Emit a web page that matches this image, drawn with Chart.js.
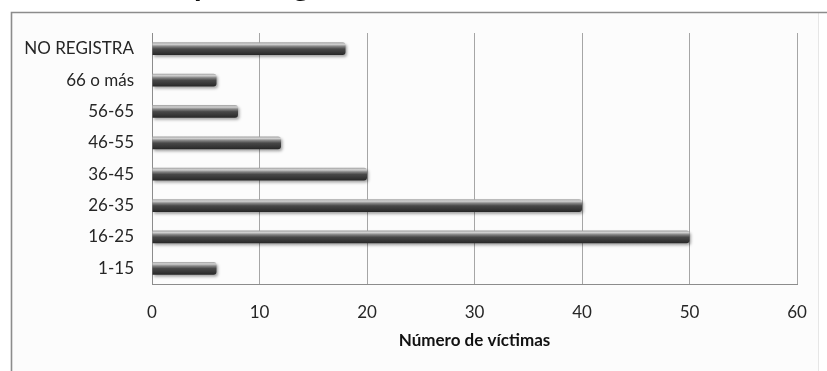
<!DOCTYPE html>
<html>
<head>
<meta charset="utf-8">
<script src="https://cdn.jsdelivr.net/npm/chart.js@4/dist/chart.umd.min.js"></script>
<style>
  html, body { margin: 0; padding: 0; background: #ffffff; }
  #wrap { width: 827px; height: 371px; position: relative; }
</style>
</head>
<body>
<div id="wrap"><canvas id="chart"></canvas></div>
<script>
// Age ranges (top to bottom) and number of victims in each
const categories = ['NO REGISTRA', '66 o más', '56-65', '46-55', '36-45', '26-35', '16-25', '1-15'];
const victims = [18, 6, 8, 12, 20, 40, 50, 6];
const xTicks = [0, 10, 20, 30, 40, 50, 60];
const chartTitle = 'Víctimas por rango de edad';
const xAxisTitle = 'Número de víctimas';

const FONT = 'Lato, "Open Sans", sans-serif';
const BAR_PCT = 0.41;

// Cylinder-like shading across each bar's thickness
function barGradient(ctx) {
  const chart = ctx.chart;
  const y = chart.scales && chart.scales.y;
  if (!y || ctx.type !== 'data' || !y.height) return '#4a4a4a';
  const c = y.getPixelForValue(ctx.dataIndex);
  const half = (y.height / categories.length) * BAR_PCT / 2;
  const g = chart.ctx.createLinearGradient(0, c - half, 0, c + half);
  g.addColorStop(0.00, '#a0a0a0');
  g.addColorStop(0.16, '#d2d2d2');
  g.addColorStop(0.32, '#858585');
  g.addColorStop(0.52, '#484848');
  g.addColorStop(0.85, '#323232');
  g.addColorStop(1.00, '#262626');
  return g;
}

// Page frame and the chart heading running off the top edge
const framePlugin = {
  id: 'frame',
  beforeDraw(chart) {
    const c = chart.ctx;
    c.save();
    c.fillStyle = '#ffffff';
    c.fillRect(0, 0, chart.width, chart.height);
    c.fillStyle = '#fcfcfc';
    c.fillRect(11, 12, 807, chart.height - 12);
    c.strokeStyle = '#e6e6e6';
    c.lineWidth = 1;
    c.beginPath();
    c.moveTo(818.5, 13); c.lineTo(818.5, chart.height);
    c.stroke();
    c.strokeStyle = '#8c8c8c';
    c.lineWidth = 1.6;
    c.beginPath();
    c.moveTo(11.5, chart.height); c.lineTo(11.5, 12.5); c.lineTo(chart.width, 12.5);
    c.stroke();
    c.font = 'bold 31px ' + FONT;
    c.fillStyle = '#111111';
    c.textBaseline = 'alphabetic';
    const pre = chartTitle.slice(0, chartTitle.indexOf('por'));
    const x0 = 194 - c.measureText(pre).width;
    c.fillText(chartTitle, x0, -4);
    c.restore();
  }
};

const shadowPlugin = {
  id: 'barShadow',
  beforeDatasetsDraw(chart) {
    const c = chart.ctx;
    c.save();
    c.shadowColor = 'rgba(0,0,0,0.35)';
    c.shadowBlur = 3;
    c.shadowOffsetX = 1.5;
    c.shadowOffsetY = 2;
  },
  afterDatasetsDraw(chart) {
    chart.ctx.restore();
  }
};

new Chart(document.getElementById('chart'), {
  type: 'bar',
  data: {
    labels: categories,
    datasets: [{
      data: victims,
      backgroundColor: barGradient,
      borderWidth: 0,
      borderRadius: 3,
      borderSkipped: 'start',
      barPercentage: BAR_PCT,
      categoryPercentage: 1.0
    }]
  },
  options: {
    indexAxis: 'y',
    responsive: true,
    maintainAspectRatio: false,
    animation: false,
    layout: { padding: { left: 0, top: 33, right: 30, bottom: 0 } },
    plugins: {
      legend: { display: false },
      tooltip: { enabled: false },
      title: { display: false }
    },
    scales: {
      x: {
        min: xTicks[0],
        max: xTicks[xTicks.length - 1],
        afterBuildTicks(scale) { scale.ticks = xTicks.map(v => ({ value: v })); },
        afterFit(scale) { scale.height = 87; },
        grid: { color: '#a6a6a6', lineWidth: 1, drawTicks: false },
        border: { display: true, color: '#8c8c8c', width: 1 },
        ticks: {
          padding: 18,
          color: '#262626',
          font: { family: FONT, size: 17 }
        },
        title: {
          display: true,
          text: xAxisTitle,
          color: '#111111',
          font: { family: FONT, size: 17, weight: 'bold' },
          padding: { top: 4, bottom: 20 }
        }
      },
      y: {
        afterFit(scale) { scale.width = 152; },
        grid: { display: false, drawTicks: false },
        border: { display: true, color: '#8c8c8c', width: 1 },
        ticks: {
          padding: 18,
          color: '#262626',
          font: { family: FONT, size: 17 }
        }
      }
    }
  },
  plugins: [framePlugin, shadowPlugin]
});
</script>
</body>
</html>
